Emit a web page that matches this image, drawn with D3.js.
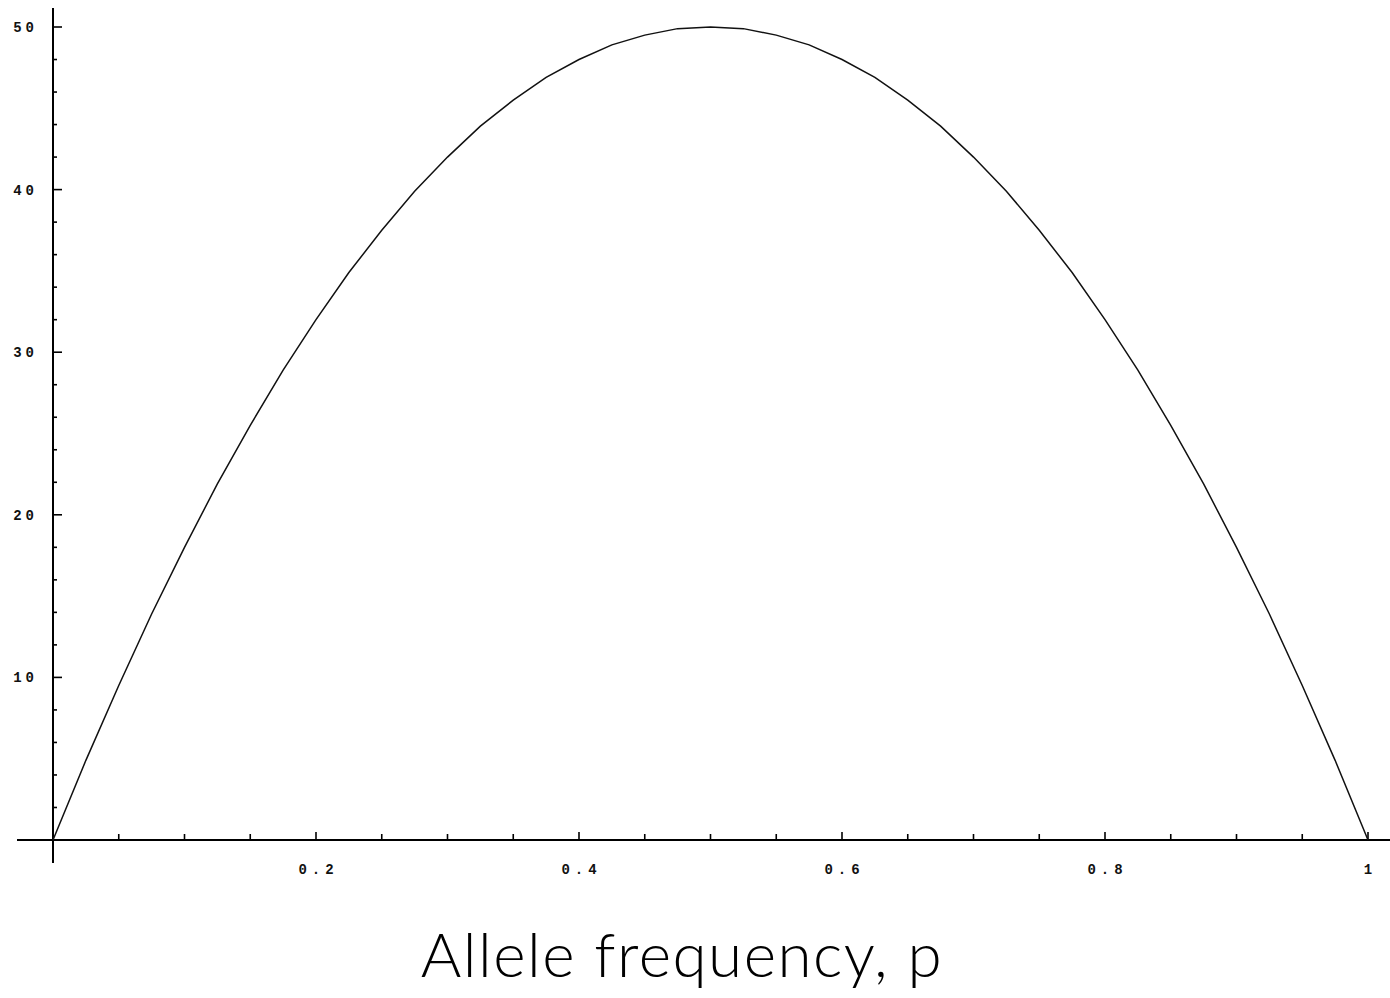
<!DOCTYPE html>
<html><head><meta charset="utf-8">
<script src="https://cdn.jsdelivr.net/npm/d3@7"></script>
<style>
html,body{margin:0;padding:0;background:#fff;}
svg{display:block;}
</style></head>
<body>
<svg id="chart" width="1390" height="998"></svg>
<script>
// Allele frequency p
const pValues = [0,0.025,0.05,0.075,0.1,0.125,0.15,0.175,0.2,0.225,0.25,0.275,0.3,0.325,0.35,0.375,0.4,0.425,0.45,0.475,0.5,
  0.525,0.55,0.575,0.6,0.625,0.65,0.675,0.7,0.725,0.75,0.775,0.8,0.825,0.85,0.875,0.9,0.925,0.95,0.975,1];
// curve values
const yValues = [0,4.9,9.5,13.9,18,21.9,25.5,28.9,32,34.9,37.5,39.9,42,43.9,45.5,46.9,48,48.9,49.5,49.9,50,
  49.9,49.5,48.9,48,46.9,45.5,43.9,42,39.9,37.5,34.9,32,28.9,25.5,21.9,18,13.9,9.5,4.9,0];
const xTickLabels = ["0.2","0.4","0.6","0.8","1"];
const xTickValues = [0.2,0.4,0.6,0.8,1];
const yTickLabels = ["10","20","30","40","50"];
const yTickValues = [10,20,30,40,50];
const xMinorValues = d3.range(1,21).map(i=>i*0.05);
const yMinorValues = d3.range(1,26).map(i=>i*2);
const xTitle = "Allele frequency, p";

const svg = d3.select("#chart");
const x = d3.scaleLinear().domain([0,1]).range([53,1368]);
const y = d3.scaleLinear().domain([0,50]).range([840,27]);

// axes lines
svg.append("line").attr("x1",17).attr("x2",1390).attr("y1",y(0)).attr("y2",y(0))
  .attr("stroke","#000").attr("stroke-width",2);
svg.append("line").attr("x1",x(0)).attr("x2",x(0)).attr("y1",8).attr("y2",863)
  .attr("stroke","#000").attr("stroke-width",2);

// x ticks
const xMajorSet = new Set(xTickValues.map(v=>v.toFixed(2)));
svg.append("g").selectAll("line").data(xMinorValues).join("line")
  .attr("x1",d=>x(d)).attr("x2",d=>x(d))
  .attr("y1",y(0)).attr("y2",d=> y(0) - (xMajorSet.has(d.toFixed(2)) ? 8 : 6))
  .attr("stroke","#000").attr("stroke-width",1.6);
// y ticks
const yMajorSet = new Set(yTickValues);
svg.append("g").selectAll("line").data(yMinorValues).join("line")
  .attr("x1",x(0)).attr("x2",d=> x(0) + (yMajorSet.has(d) ? 9 : 4))
  .attr("y1",d=>y(d)).attr("y2",d=>y(d))
  .attr("stroke","#000").attr("stroke-width",1.6);

const lblFont = "'Liberation Mono','DejaVu Sans Mono',monospace";
svg.append("g").selectAll("text").data(xTickValues).join("text")
  .attr("x",d=>x(d)+2.5).attr("y",874)
  .attr("text-anchor","middle")
  .attr("font-family",lblFont).attr("font-weight","bold").attr("font-size",14)
  .attr("letter-spacing",5).attr("fill","#111")
  .text((d,i)=>xTickLabels[i]);
svg.append("g").selectAll("text").data(yTickValues).join("text")
  .attr("x",38).attr("y",d=>y(d)+5)
  .attr("text-anchor","end")
  .attr("font-family",lblFont).attr("font-weight","bold").attr("font-size",14)
  .attr("letter-spacing",4).attr("fill","#111")
  .text((d,i)=>yTickLabels[i]);

// curve
const pts = pValues.map((p,i)=>[p,yValues[i]]);
svg.append("path").datum(pts)
  .attr("d",d3.line().x(d=>x(d[0])).y(d=>y(d[1])))
  .attr("fill","none").attr("stroke","#111").attr("stroke-width",1.5);

// title
svg.append("text").attr("x",682).attr("y",977).attr("text-anchor","middle")
  .attr("font-family","Lato,'Noto Sans',sans-serif").attr("font-size",62)
  .attr("font-weight",300).attr("letter-spacing",1.5)
  .attr("fill","#000").text(xTitle);
</script>
</body></html>
